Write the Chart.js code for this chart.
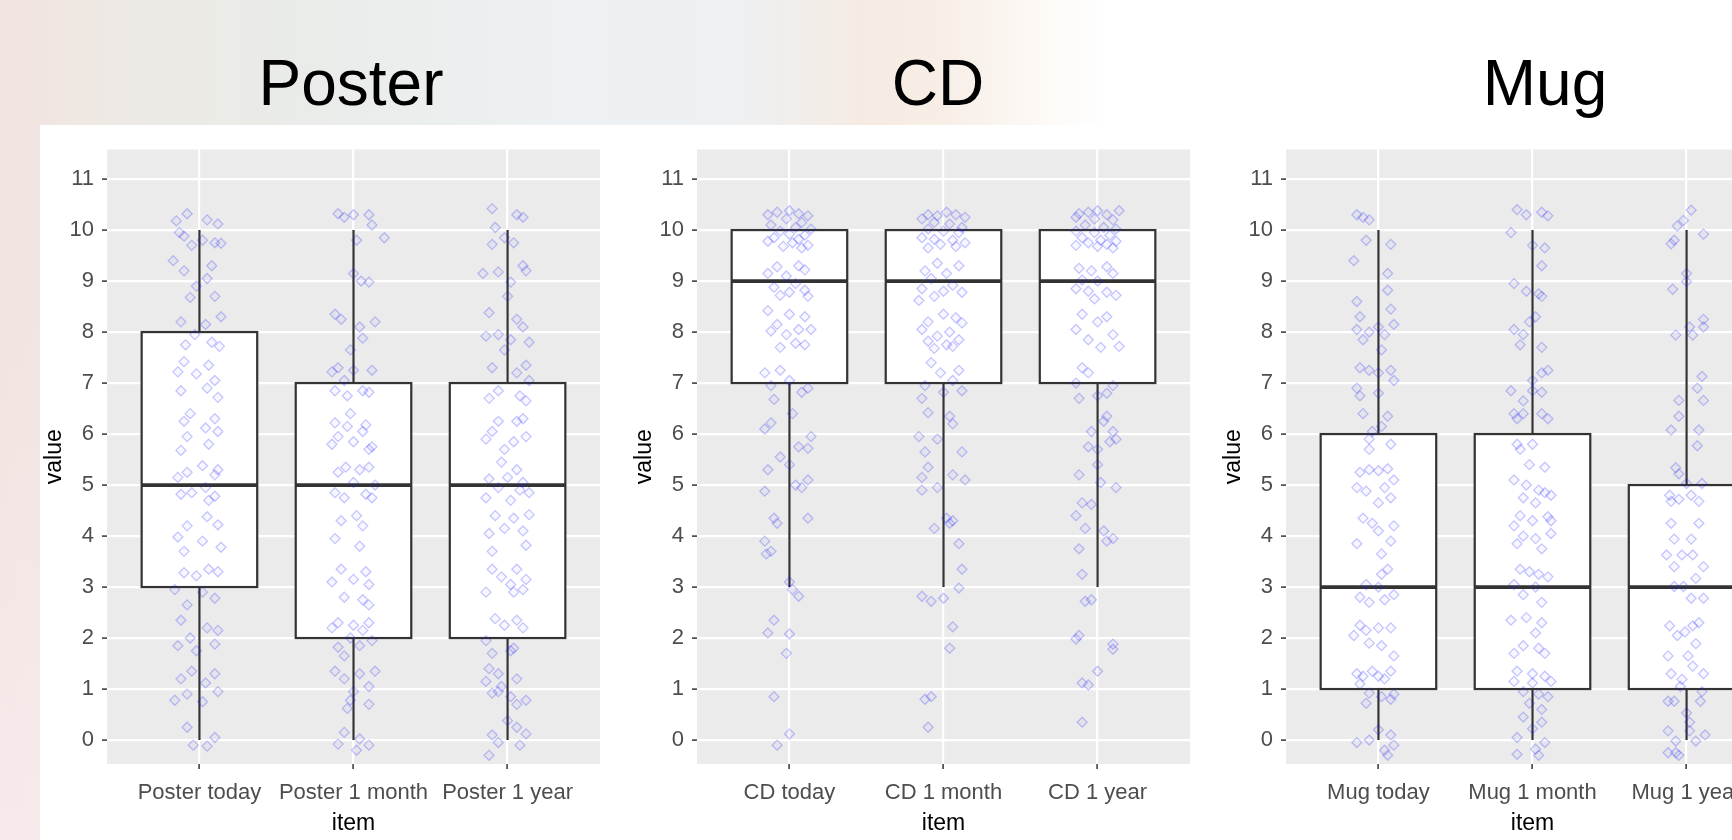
<!DOCTYPE html>
<html>
<head>
<meta charset="utf-8">
<script src="https://cdn.jsdelivr.net/npm/chart.js@4.4.1/dist/chart.umd.min.js"></script>
<style>
html, body { margin: 0; padding: 0; }
body {
  width: 1732px; height: 840px; overflow: hidden; position: relative;
  font-family: "Liberation Sans", Arial, sans-serif;
  background:
    linear-gradient(180deg, rgba(255,255,255,0) 0px, rgba(255,255,255,0) 300px, rgba(250,236,240,0.7) 840px),
    linear-gradient(90deg, #f2e3df 0px, #edeae5 130px, #e9ece9 320px, #edf1f3 560px, #eef0f2 740px, #f5ebe3 860px, #f7eee6 940px, #fdfaf7 1050px, #ffffff 1110px);
}
#sheet { position: absolute; left: 40px; top: 125px; right: 0; bottom: 0; background: #fff; }
.ttl { position: absolute; width: 300px; text-align: center; font-size: 64px; line-height: 64px; top: 51px; color: #000; }
canvas { position: absolute; top: 125px; }
</style>
</head>
<body>
<div id="sheet"></div>
<div class="ttl" style="left:201px">Poster</div>
<div class="ttl" style="left:788px">CD</div>
<div class="ttl" style="left:1395px">Mug</div>
<canvas id="poster" width="589" height="715" style="left:40px"></canvas>
<canvas id="cd" width="589" height="715" style="left:630px"></canvas>
<canvas id="mug" width="589" height="715" style="left:1219px"></canvas>
<script>
// axis ticks (labels only on whole numbers, minor lines at halves)
const yTicks = [0, 0.5, 1, 1.5, 2, 2.5, 3, 3.5, 4, 4.5, 5, 5.5, 6, 6.5, 7, 7.5, 8, 8.5, 9, 9.5, 10, 10.5, 11, 11.5];

const posterCats = ['Poster today', 'Poster 1 month', 'Poster 1 year'];
const cdCats = ['CD today', 'CD 1 month', 'CD 1 year'];
const mugCats = ['Mug today', 'Mug 1 month', 'Mug 1 year'];

// box stats: [min, q1, median, q3, max]
const posterStats = [[0, 3, 5, 8, 10], [0, 2, 5, 7, 10], [0, 2, 5, 7, 10]];
const cdStats = [[3, 7, 9, 10, 10], [3, 7, 9, 10, 10], [3, 7, 9, 10, 10]];
const mugStats = [[0, 1, 3, 6, 10], [0, 1, 3, 6, 10], [0, 1, 3, 5, 10]];

// jittered answers: [horizontal offset in category units, value]
const posterToday = [
  [-0.08,10.32],[0.05,10.2],[-0.15,10.18],[0.12,10.12],[-0.1,9.88],[0.02,9.8],[0.1,9.75],[-0.05,9.7],[0.14,9.74],[-0.13,9.95],
  [-0.17,9.4],[0.08,9.3],[-0.1,9.2],[0.05,9.05],[-0.02,8.9],[0.1,8.7],[-0.06,8.68],
  [-0.12,8.2],[0.14,8.3],[0.04,8.15],[-0.03,7.95],[0.08,7.8],[-0.09,7.75],[0.13,7.72],
  [-0.1,7.42],[0.06,7.35],[-0.14,7.22],[-0.02,7.18],[0.1,7.05],[-0.12,6.85],[0.12,6.72],[0.05,6.9],
  [-0.06,6.4],[0.1,6.3],[-0.1,6.25],[0.04,6.12],[0.12,6.05],[-0.08,5.95],[0.06,5.8],[-0.12,5.68],
  [0.02,5.38],[0.12,5.3],[-0.08,5.25],[-0.14,5.15],[0.1,5.2],[0.04,4.95],[-0.05,4.85],[0.1,4.78],[-0.12,4.82],[0.06,4.7],
  [0.05,4.38],[-0.08,4.2],[0.12,4.22],[-0.14,3.98],[0.02,3.9],[0.14,3.78],[-0.1,3.7],
  [0.06,3.35],[-0.1,3.28],[0.12,3.3],[-0.02,3.22],[-0.16,2.95],[0.02,2.9],[0.1,2.78],[-0.08,2.65],
  [-0.12,2.35],[0.05,2.2],[0.12,2.15],[-0.06,2.0],[-0.14,1.85],[0.1,1.88],[-0.02,1.75],
  [-0.05,1.35],[0.1,1.3],[-0.12,1.2],[0.04,1.12],[0.12,0.95],[-0.08,0.9],[-0.16,0.78],[0.02,0.75],
  [-0.08,0.25],[0.1,0.05],[-0.04,-0.1],[0.05,-0.12]
];
const poster1Month = [
  [-0.1,10.32],[0.0,10.3],[0.1,10.3],[-0.06,10.25],[0.12,10.1],[0.2,9.85],[0.02,9.8],
  [0.0,9.15],[0.05,9.0],[0.1,8.98],
  [-0.12,8.35],[-0.08,8.25],[0.04,8.1],[0.14,8.2],[0.06,7.88],[-0.02,7.65],
  [-0.1,7.3],[-0.14,7.22],[0.0,7.25],[0.12,7.25],[-0.06,7.05],[-0.12,6.85],[0.06,6.85],[0.1,6.82],[-0.04,6.75],
  [-0.12,6.22],[-0.04,6.15],[0.06,6.05],[-0.1,5.95],[0.12,5.75],[0.0,5.85],[-0.14,5.8],[0.08,6.18],[0.1,5.7],[-0.02,6.4],
  [-0.05,5.35],[0.1,5.35],[-0.1,5.25],[0.04,5.3],[0.0,5.05],[-0.12,4.85],[0.08,4.82],[-0.06,4.75],[0.12,4.75],[0.14,5.0],
  [0.02,4.4],[-0.08,4.3],[0.06,4.2],[-0.12,3.95],[0.04,3.8],
  [-0.08,3.35],[0.08,3.3],[-0.14,3.1],[0.0,3.15],[0.1,3.05],[-0.06,2.8],[0.06,2.75],[0.1,2.65],
  [-0.1,2.3],[0.0,2.25],[0.1,2.3],[-0.14,2.2],[0.06,2.15],[-0.02,2.0],[0.12,1.95],[-0.1,1.82],[0.04,1.85],[-0.06,1.65],
  [-0.12,1.35],[0.04,1.3],[0.14,1.35],[-0.06,1.2],[0.1,1.05],[0.0,0.95],[-0.02,0.78],[0.1,0.7],[-0.04,0.62],
  [-0.06,0.15],[0.04,0.02],[-0.1,-0.08],[0.02,-0.2],[0.1,-0.1]
];
const poster1Year = [
  [-0.1,10.42],[0.06,10.3],[0.1,10.25],[-0.08,10.05],[-0.02,9.85],[-0.1,9.72],[0.04,9.75],
  [-0.16,9.15],[-0.06,9.18],[0.1,9.3],[0.12,9.2],[0.02,8.98],[0.0,8.7],
  [-0.12,8.38],[0.06,8.25],[0.1,8.1],[-0.06,7.95],[0.02,7.85],[-0.14,7.92],[0.14,7.8],[-0.02,7.65],
  [-0.1,7.3],[0.12,7.35],[0.06,7.2],[0.14,7.05],[-0.06,6.85],[0.08,6.75],[-0.12,6.7],[0.12,6.65],
  [-0.06,6.25],[0.06,6.25],[-0.1,6.05],[0.1,6.3],[-0.14,5.9],[0.04,5.85],[-0.02,5.7],[0.12,5.95],
  [-0.04,5.45],[0.06,5.3],[-0.12,5.12],[0.0,5.15],[0.1,5.05],[-0.06,4.95],[0.08,4.9],[-0.14,4.75],[0.02,4.7],[0.14,4.85],
  [-0.08,4.4],[0.04,4.35],[0.14,4.42],[-0.02,4.15],[0.1,4.1],[-0.12,4.05],[-0.1,3.7],[0.12,3.82],
  [-0.1,3.35],[0.06,3.35],[0.12,3.15],[-0.04,3.2],[0.02,3.05],[0.1,2.95],[-0.14,2.9],[0.04,2.9],
  [-0.08,2.38],[0.06,2.35],[-0.02,2.25],[0.1,2.2],[-0.14,1.95],[0.02,1.75],[-0.1,1.7],[0.04,1.8],
  [-0.12,1.4],[-0.06,1.3],[-0.14,1.15],[-0.04,1.05],[0.06,1.2],[-0.1,0.92],[0.02,0.85],[0.12,0.78],[0.06,0.7],[-0.06,0.95],
  [0.0,0.38],[-0.1,0.1],[0.06,0.25],[0.12,0.12],[-0.06,-0.05],[0.08,-0.1],[-0.12,-0.3]
];
const cdToday = [
  [-0.14,10.3],[-0.08,10.35],[0.0,10.38],[0.06,10.32],[0.12,10.28],[-0.02,10.22],[0.08,10.15],[-0.12,10.1],[0.04,10.05],[0.14,10.02],
  [-0.06,9.98],[0.0,9.92],[0.1,9.9],[-0.1,9.85],[0.06,9.82],[-0.14,9.78],[0.02,9.75],[0.12,9.7],[-0.04,9.68],[0.08,9.65],
  [-0.08,9.28],[0.06,9.3],[0.1,9.22],[-0.14,9.15],[-0.02,9.1],[0.04,8.95],[-0.1,8.88],[0.1,8.82],[0.0,8.78],[-0.06,8.72],[0.12,8.7],
  [-0.14,8.42],[0.0,8.35],[0.1,8.3],[-0.08,8.15],[0.06,8.05],[-0.12,8.02],[0.14,8.05],[-0.02,7.95],[0.04,7.78],[-0.06,7.7],[0.1,7.75],
  [-0.16,7.2],[-0.06,7.25],[0.0,7.05],[-0.12,6.95],[0.12,6.9],[0.08,6.82],[-0.1,6.68],
  [0.02,6.4],[-0.12,6.22],[-0.16,6.1],[0.14,5.95],[0.06,5.75],[0.12,5.72],[-0.06,5.55],
  [-0.14,5.3],[0.0,5.4],[-0.16,4.88],[0.04,5.0],[0.12,5.1],[0.08,4.95],
  [-0.1,4.35],[-0.08,4.25],[0.12,4.35],[-0.16,3.9],[-0.12,3.7],[-0.15,3.65],
  [0.0,3.1],[0.02,2.95],[0.06,2.82],
  [-0.1,2.35],[-0.14,2.1],[0.0,2.08],[-0.02,1.7],
  [-0.1,0.85],
  [0.0,0.12],[-0.08,-0.1]
];
const cd1Month = [
  [-0.1,10.3],[-0.04,10.28],[0.02,10.35],[0.08,10.3],[0.14,10.25],[-0.14,10.22],[-0.06,10.15],[0.04,10.12],[0.12,10.05],[-0.1,10.02],
  [0.0,9.98],[0.1,9.95],[-0.14,9.85],[-0.06,9.82],[0.06,9.8],[0.14,9.75],[-0.02,9.72],[-0.1,9.65],[0.08,9.68],
  [-0.04,9.35],[0.1,9.3],[-0.12,9.2],[0.02,9.15],[-0.08,9.05],[0.06,8.92],[-0.14,8.85],[0.0,8.8],[0.12,8.78],[-0.06,8.7],[-0.16,8.62],
  [0.0,8.35],[0.08,8.28],[-0.1,8.2],[0.12,8.18],[-0.14,8.05],[0.04,8.0],[-0.04,7.92],[0.1,7.85],[-0.1,7.82],[0.02,7.75],[0.06,7.72],[-0.06,7.68],
  [-0.08,7.4],[-0.02,7.2],[0.1,7.25],[0.06,7.05],[-0.12,6.95],[0.0,6.82],[0.12,6.85],[-0.14,6.7],
  [-0.1,6.42],[0.04,6.35],[0.06,6.2],[-0.16,5.95],[-0.04,5.9],[0.12,5.65],[-0.12,5.65],
  [-0.1,5.35],[-0.14,5.15],[0.06,5.2],[0.14,5.1],[-0.14,4.9],[-0.04,4.95],
  [0.02,4.35],[0.06,4.3],[-0.06,4.15],[0.04,4.25],[0.1,3.85],
  [0.12,3.35],[-0.14,2.82],[-0.08,2.72],[0.1,2.98],[0.0,2.78],
  [0.06,2.22],[0.04,1.8],
  [-0.08,0.85],[-0.12,0.8],
  [-0.1,0.25]
];
const cd1Year = [
  [-0.12,10.32],[-0.06,10.35],[0.0,10.38],[0.06,10.3],[0.14,10.38],[-0.14,10.25],[-0.02,10.22],[0.1,10.2],[-0.08,10.1],[0.04,10.05],[0.12,10.02],
  [-0.14,9.98],[-0.02,9.95],[0.08,9.9],[-0.1,9.85],[0.02,9.8],[0.12,9.78],[-0.06,9.75],[0.06,9.72],[-0.14,9.7],[0.0,9.68],[0.1,9.65],
  [-0.12,9.25],[-0.04,9.2],[0.06,9.28],[0.1,9.15],[-0.1,9.02],[0.0,9.0],[-0.14,8.85],[-0.06,8.8],[0.06,8.78],[0.12,8.72],[-0.02,8.65],
  [-0.1,8.35],[0.06,8.3],[0.0,8.2],[-0.14,8.05],[0.1,7.95],[-0.06,7.85],[0.02,7.7],[0.14,7.72],
  [-0.1,7.3],[-0.06,7.2],[-0.14,7.0],[0.1,6.95],[0.06,6.8],[-0.12,6.7],[0.0,6.75],
  [0.06,6.35],[0.04,6.25],[-0.04,6.05],[0.1,6.05],[0.12,5.9],[0.08,5.85],[0.0,5.7],[-0.06,5.75],
  [0.0,5.4],[-0.12,5.2],[0.12,4.95],[0.02,5.05],
  [-0.1,4.65],[-0.04,4.62],[-0.14,4.4],[-0.08,4.15],[0.04,4.1],[0.06,3.9],[-0.12,3.75],[0.1,3.95],
  [-0.1,3.25],[-0.04,2.75],[-0.08,2.72],
  [-0.12,2.05],[-0.14,1.98],[0.1,1.88],[0.1,1.78],
  [-0.1,1.12],[-0.06,1.08],[0.0,1.35],
  [-0.1,0.35]
];
const mugToday = [
  [-0.14,10.3],[-0.1,10.25],[-0.06,10.2],[-0.08,9.8],[0.08,9.72],
  [-0.16,9.4],[0.06,9.15],[0.06,8.82],[0.08,8.45],
  [-0.14,8.6],[-0.12,8.3],[-0.14,8.05],[-0.06,8.0],[0.0,8.1],[0.1,8.15],[0.04,7.95],[-0.1,7.85],[0.02,7.65],
  [-0.12,7.3],[-0.06,7.25],[0.0,7.2],[0.08,7.25],[0.1,7.05],[-0.14,6.9],[-0.12,6.75],[0.0,6.8],
  [-0.1,6.4],[0.06,6.35],[0.02,6.15],[-0.04,6.05],[-0.06,5.9],[0.08,5.8],[-0.06,5.7],
  [-0.12,5.25],[-0.06,5.3],[0.0,5.28],[0.06,5.32],[0.1,5.1],[-0.14,4.95],[-0.08,4.88],[0.04,4.95],[0.08,4.75],[0.0,4.65],
  [-0.1,4.35],[-0.04,4.25],[0.0,4.1],[0.1,4.2],[-0.14,3.85],[0.08,3.9],[0.02,3.65],
  [0.06,3.35],[0.02,3.25],[-0.08,3.05],[0.0,3.0],[-0.12,2.8],[-0.06,2.7],[0.04,2.75],[0.1,2.85],
  [-0.12,2.25],[-0.08,2.15],[-0.16,2.05],[0.0,2.2],[0.08,2.2],[-0.06,1.9],[0.02,1.85],[0.1,1.65],
  [-0.14,1.3],[-0.1,1.25],[-0.04,1.35],[0.0,1.25],[0.08,1.35],[-0.12,1.1],[0.04,1.2],[-0.06,0.92],[0.02,0.85],[0.1,0.9],[0.08,0.8],[-0.08,0.72],
  [-0.14,-0.05],[-0.06,0.0],[0.0,0.2],[0.08,0.1],[0.1,-0.1],[0.04,-0.2],[0.06,-0.3]
];
const mug1Month = [
  [-0.1,10.4],[-0.04,10.3],[0.06,10.35],[0.1,10.28],[-0.14,9.95],[0.0,9.7],[0.08,9.65],
  [0.06,9.3],[-0.12,8.95],[-0.04,8.8],[0.04,8.75],[0.06,8.7],
  [0.02,8.3],[-0.02,8.2],[-0.12,8.05],[-0.06,7.95],[0.06,7.7],[-0.08,7.75],
  [0.06,7.2],[0.1,7.25],[0.0,7.05],[-0.14,6.85],[-0.06,6.65],[0.0,6.85],[0.06,6.82],
  [-0.12,6.4],[-0.06,6.4],[-0.1,6.3],[0.06,6.4],[0.1,6.3],
  [-0.1,5.8],[-0.08,5.7],[0.0,5.8],[-0.02,5.4],[0.08,5.35],[-0.12,5.1],[-0.04,5.0],[0.04,4.9],[0.08,4.85],[-0.06,4.75],[0.12,4.8],[0.02,4.65],
  [-0.08,4.4],[0.0,4.3],[0.1,4.38],[0.12,4.3],[-0.12,4.2],[-0.06,4.0],[0.02,3.95],[0.12,4.05],[-0.1,3.85],[0.06,3.75],
  [-0.08,3.35],[-0.02,3.3],[0.04,3.25],[0.1,3.2],[-0.12,3.05],[0.02,3.0],[-0.06,2.85],[0.06,2.7],
  [-0.14,2.35],[-0.04,2.4],[0.06,2.3],[0.02,2.1],[-0.06,1.85],[0.04,1.8],[0.08,1.7],[-0.12,1.7],
  [-0.1,1.35],[0.0,1.3],[0.08,1.25],[-0.12,1.15],[0.0,1.12],[0.12,1.15],[-0.06,0.95],[0.04,0.9],[0.1,0.85],[-0.02,0.72],[0.06,0.6],
  [-0.06,0.45],[0.06,0.35],[0.0,0.22],[-0.1,0.05],[0.08,-0.05],[0.02,-0.18],[-0.1,-0.28],[0.04,-0.3]
];
const mug1Year = [
  [0.03,10.39],[-0.02,10.19],[-0.06,10.08],[0.11,9.92],[-0.1,9.73],[-0.08,9.8],
  [0.0,9.15],[0.0,8.99],[-0.09,8.84],
  [0.11,8.25],[0.11,8.1],[0.02,8.1],[-0.07,7.94],[0.04,7.94],
  [0.1,7.13],[0.07,6.9],[-0.05,6.66],[0.11,6.66],
  [-0.05,6.35],[-0.1,6.08],[0.08,6.08],[0.07,5.77],
  [-0.07,5.34],[-0.05,5.22],[0.0,5.03],[0.1,5.03],[-0.11,4.8],[0.03,4.8],[-0.1,4.68],[0.08,4.68],[-0.05,4.72],
  [-0.1,4.25],[0.08,4.25],[-0.08,3.94],[0.03,3.94],[-0.13,3.63],[-0.03,3.63],[0.04,3.63],
  [0.11,3.4],[-0.08,3.4],[0.06,3.17],[-0.02,3.01],[-0.08,3.01],[0.11,2.78],[0.03,2.78],
  [-0.11,2.24],[0.04,2.24],[-0.01,2.12],[0.06,1.89],[-0.12,1.65],[0.01,1.65],[-0.06,2.05],[0.08,2.3],
  [-0.1,1.3],[0.11,1.3],[-0.03,1.19],[0.04,1.45],[-0.04,1.05],[0.1,0.95],
  [-0.12,0.76],[-0.08,0.76],[0.09,0.76],[0.0,0.53],[0.02,0.35],
  [-0.12,0.18],[0.02,0.18],[0.12,0.1],[-0.07,-0.02],[0.06,-0.02],[-0.12,-0.25],[-0.07,-0.25],[-0.05,-0.3]
];

const fontFamily = "'Liberation Sans', Arial, sans-serif";

// ggplot-ish panel background plus box-and-whisker drawing
const boxPlugin = {
  id: 'boxes',
  beforeDraw(chart) {
    const { ctx, chartArea: a } = chart;
    ctx.save();
    ctx.fillStyle = '#ebebeb';
    ctx.fillRect(a.left, a.top, a.right - a.left, a.bottom - a.top);
    ctx.restore();
  },
  beforeDatasetsDraw(chart, args, opts) {
    const { ctx, scales: { x, y } } = chart;
    ctx.save();
    ctx.strokeStyle = '#333333';
    opts.stats.forEach((s, i) => {
      const cx = x.getPixelForValue(i);
      const left = x.getPixelForValue(i - 0.375);
      const right = x.getPixelForValue(i + 0.375);
      const [yMin, yQ1, yMed, yQ3, yMax] = s.map(v => y.getPixelForValue(v));
      ctx.lineWidth = 2.2;
      ctx.beginPath();
      ctx.moveTo(cx, yQ3); ctx.lineTo(cx, yMax);
      ctx.moveTo(cx, yQ1); ctx.lineTo(cx, yMin);
      ctx.stroke();
      ctx.fillStyle = '#ffffff';
      ctx.fillRect(left, yQ3, right - left, yQ1 - yQ3);
      ctx.strokeRect(left, yQ3, right - left, yQ1 - yQ3);
      ctx.lineWidth = 3.8;
      ctx.beginPath();
      ctx.moveTo(left, yMed); ctx.lineTo(right, yMed);
      ctx.stroke();
    });
    ctx.restore();
  }
};

function makePanel(id, cats, stats, groups) {
  const points = groups.flatMap((g, i) => g.map(([dx, v]) => ({ x: i + dx, y: v })));
  new Chart(document.getElementById(id), {
    type: 'scatter',
    data: {
      datasets: [{
        data: points,
        pointStyle: 'rectRot',
        radius: 5,
        borderWidth: 1.3,
        borderColor: 'rgba(40, 40, 255, 0.26)',
        backgroundColor: 'rgba(0, 0, 255, 0.03)'
      }]
    },
    options: {
      responsive: false,
      animation: false,
      devicePixelRatio: 1,
      layout: { padding: { top: 24.5, right: 29, bottom: 0, left: 0 } },
      plugins: {
        legend: { display: false },
        tooltip: { enabled: false },
        boxes: { stats: stats }
      },
      scales: {
        x: {
          type: 'linear',
          min: -0.6,
          max: 2.6,
          afterBuildTicks: (s) => { s.ticks = cats.map((c, i) => ({ value: i })); },
          afterFit: (s) => { s.height = 76; },
          ticks: {
            callback: (v, i) => cats[i],
            color: '#4d4d4d',
            font: { family: fontFamily, size: 22 },
            padding: 11,
            maxRotation: 0,
            autoSkip: false
          },
          grid: { color: '#ffffff', lineWidth: 2.2, tickColor: '#333333', tickLength: 5, tickWidth: 1.5 },
          border: { display: false },
          title: { display: true, text: 'item', color: '#000000', font: { family: fontFamily, size: 23 }, padding: { top: 0, bottom: 3 } }
        },
        y: {
          min: -0.47,
          max: 11.58,
          afterBuildTicks: (s) => { s.ticks = yTicks.map(v => ({ value: v })); },
          afterFit: (s) => { s.width = 67; },
          ticks: {
            callback: (v) => Number.isInteger(v) ? String(v) : '',
            color: '#4d4d4d',
            font: { family: fontFamily, size: 22 },
            padding: 8
          },
          grid: {
            color: '#ffffff',
            lineWidth: (c) => Number.isInteger(c.tick.value) ? 2.2 : 1.1,
            tickColor: (c) => Number.isInteger(c.tick.value) ? '#333333' : 'rgba(0,0,0,0)',
            tickLength: 5,
            tickWidth: 1.5
          },
          border: { display: false },
          title: { display: true, text: 'value', color: '#000000', font: { family: fontFamily, size: 23 }, padding: { top: 1, bottom: 0 } }
        }
      }
    },
    plugins: [boxPlugin]
  });
}

makePanel('poster', posterCats, posterStats, [posterToday, poster1Month, poster1Year]);
makePanel('cd', cdCats, cdStats, [cdToday, cd1Month, cd1Year]);
makePanel('mug', mugCats, mugStats, [mugToday, mug1Month, mug1Year]);
</script>
</body>
</html>
